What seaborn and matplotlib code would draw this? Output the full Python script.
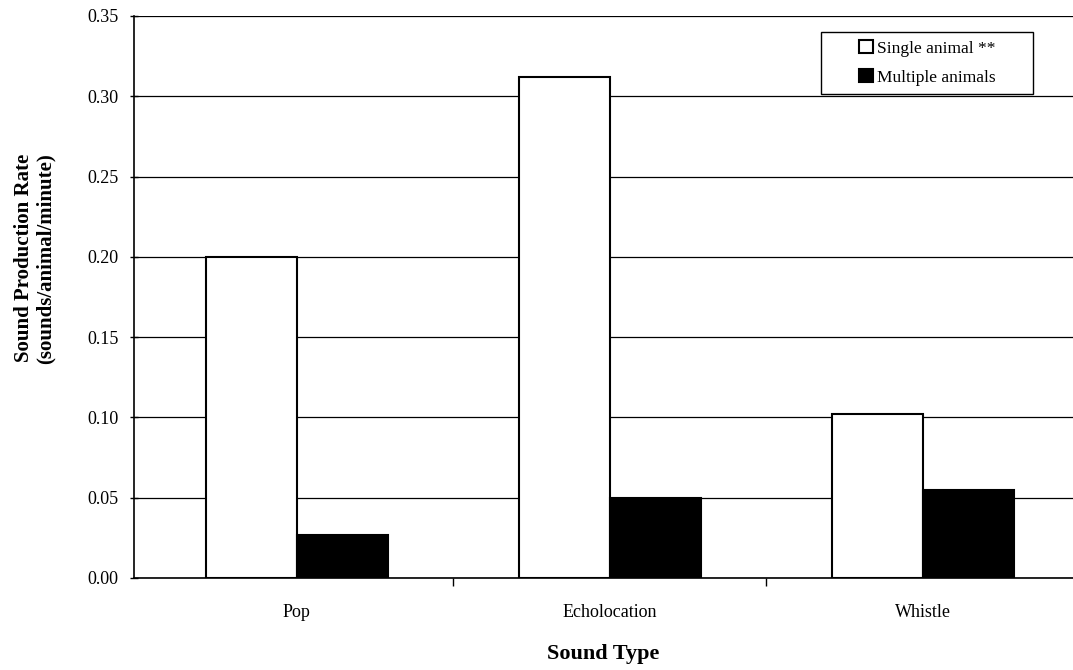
import pandas as pd
import matplotlib
matplotlib.use('Agg')
import matplotlib.pyplot as plt
from matplotlib.patches import Rectangle
import seaborn as sns

# values
sound_types = ['Pop', 'Echolocation', 'Whistle']
single_animal = [0.200, 0.312, 0.102]
multiple_animals = [0.027, 0.050, 0.055]
series_names = ['Single animal **', 'Multiple animals']
y_ticks = [0.00, 0.05, 0.10, 0.15, 0.20, 0.25, 0.30, 0.35]

df = pd.DataFrame({
    'Sound Type': sound_types * 2,
    'Rate': single_animal + multiple_animals,
    'Group': [series_names[0]] * 3 + [series_names[1]] * 3,
})

sns.set_style('white', {'text.color': 'black', 'axes.labelcolor': 'black',
                        'xtick.color': 'black', 'ytick.color': 'black'})
plt.rcParams['font.family'] = ['Liberation Serif', 'DejaVu Serif']

fig = plt.figure(figsize=(10.73, 6.70), dpi=100)
ax = fig.add_axes([134 / 1073, 1 - 578 / 670, 1 - 134 / 1073, (578 - 16) / 670])

sns.barplot(data=df, x='Sound Type', y='Rate', hue='Group', order=sound_types,
            hue_order=series_names, palette=['white', 'black'], width=0.58,
            edgecolor='black', linewidth=1.5, saturation=1, ax=ax)

ax.set_ylim(0, 0.35)
ax.set_xlim(-0.52, 2.48)
ax.set_yticks(y_ticks)
ax.set_yticklabels([f'{v:.2f}' for v in y_ticks], fontsize=13, color='black')
ax.yaxis.grid(True, color='black', linewidth=0.9)
ax.set_axisbelow(True)

# category labels centred, tick marks between the groups
ax.set_xticks([0, 1, 2])
ax.set_xticklabels(sound_types, fontsize=13, color='black')
ax.tick_params(axis='x', which='major', length=0, pad=19, bottom=True)
ax.set_xticks([0.5, 1.5], minor=True)
ax.tick_params(axis='x', which='minor', length=6, width=1, direction='out',
               color='black', bottom=True)
ax.tick_params(axis='y', length=6, width=1, direction='inout', color='black',
               pad=8, left=True)

for side in ['top', 'right']:
    ax.spines[side].set_visible(False)
for side in ['left', 'bottom']:
    ax.spines[side].set_color('black')
    ax.spines[side].set_linewidth(1.2)

ax.set_xlabel('Sound Type', fontsize=16, fontweight='bold', labelpad=16, color='black')
ax.set_ylabel('Sound Production Rate\n(sounds/animal/minute)', fontsize=15,
              fontweight='bold', linespacing=1.05, color='black')
ax.yaxis.set_label_coords(-0.084, 0.569)

handles, labels = ax.get_legend_handles_labels()
leg = ax.legend(handles, labels, loc='upper left', bbox_to_anchor=(0.772, 0.957),
                borderaxespad=0, borderpad=0, fontsize=12.5, frameon=False,
                handlelength=0.8, handleheight=0.8, handletextpad=0.25,
                labelspacing=0.7)
for t in leg.get_texts():
    t.set_color('black')
ax.add_patch(Rectangle((0.732, 0.861), 0.957 - 0.732, 0.972 - 0.861,
                       transform=ax.transAxes, fill=True, facecolor='white',
                       edgecolor='black', linewidth=1, zorder=4))

plt.savefig('out.png', dpi=100)
